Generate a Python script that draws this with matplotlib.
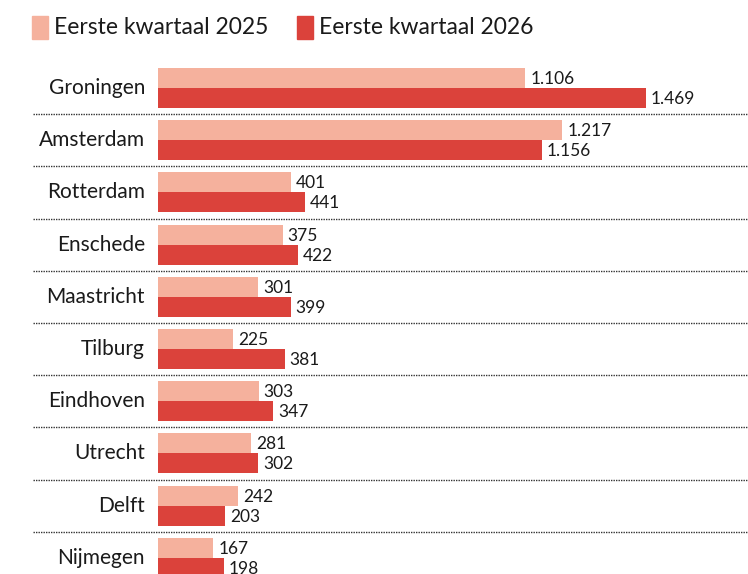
import matplotlib
matplotlib.use("Agg")
import matplotlib.pyplot as plt
from matplotlib.patches import Rectangle

steden = ["Groningen", "Amsterdam", "Rotterdam", "Enschede", "Maastricht",
          "Tilburg", "Eindhoven", "Utrecht", "Delft", "Nijmegen"]
q1_2025 = [1106, 1217, 401, 375, 301, 225, 303, 281, 242, 167]
q1_2026 = [1469, 1156, 441, 422, 399, 381, 347, 302, 203, 198]
reeksen = ["Eerste kwartaal 2025", "Eerste kwartaal 2026"]

licht = "#F5B19D"
donker = "#DB423B"
plt.rcParams['font.family'] = ["Lato", "DejaVu Sans"]

W, H = 748, 574
fig = plt.figure(figsize=(W / 100, H / 100), dpi=100)

x0 = 158          # pixel where bars start
schaal = 0.3322   # pixels per unit
rij = 52.2        # pixels per row
y0 = 88           # pixel center of first row

ax = fig.add_axes([x0 / W, 0, (W - x0) / W, 1])
ax.set_xlim(0, (W - x0) / schaal)
ax.set_ylim((H - y0) / rij, -y0 / rij)
ax.axis("off")

pos = list(range(len(steden)))
h = 0.385
ax.barh([p - h / 2 for p in pos], q1_2025, height=h, color=licht)
ax.barh([p + h / 2 for p in pos], q1_2026, height=h, color=donker)

def fmt(v):
    return f"{v:,}".replace(",", ".")

dx = 5 / schaal
for p, a, b in zip(pos, q1_2025, q1_2026):
    ax.text(a + dx, p - h / 2 + 0.02, fmt(a), va="center", ha="left", fontsize=12.5, color="#1a1a1a")
    ax.text(b + dx, p + h / 2 + 0.02, fmt(b), va="center", ha="left", fontsize=12.5, color="#1a1a1a")
    ax.text(-13 / schaal, p, steden[p], va="center", ha="right", fontsize=15, color="#1a1a1a",
            clip_on=False)

# dotted separators
for p in pos[:-1]:
    ax.plot([(33 - x0) / schaal, (W - x0) / schaal], [p + 0.5, p + 0.5], ls=(0, (1, 0.8)),
            lw=1.0, color="#333333", clip_on=False)

# legend
for (lx, tx), naam, kleur in zip([(32, 54), (297, 319)], reeksen, [licht, donker]):
    fig.patches.append(Rectangle((lx / W, 1 - 39 / H), 16 / W, 23 / H, color=kleur,
                                 transform=fig.transFigure))
    fig.text(tx / W, 1 - 27.5 / H, naam, va="center", ha="left", fontsize=16.5, color="#1a1a1a")

fig.savefig("out.png", dpi=100)
